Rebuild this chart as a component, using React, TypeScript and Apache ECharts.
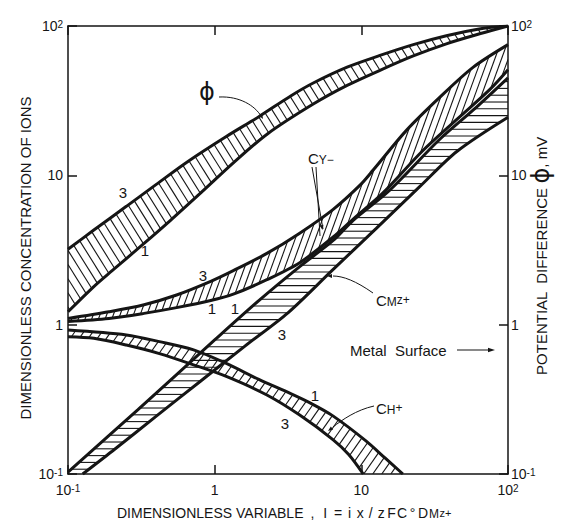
import React, { useEffect, useRef } from 'react';
import * as echarts from 'echarts';

type Pt = [number, number];

// Dimensionless variable I (x) against concentration / potential (y), log-log.
// Each quantity is drawn as a band between its curve "3" and curve "1".
const phiCurve3: Pt[] = [[0.1, 3.2], [0.15, 4.3], [0.25, 6.2], [0.4, 8.7], [0.65, 12.3], [1.2, 18.2], [2, 24.7], [3.3, 34], [4.7, 41.5], [8, 53], [13.4, 63.5], [22.6, 75], [38, 86], [65, 96], [100, 100]];
const phiCurve1: Pt[] = [[0.1, 1.22], [0.15, 1.8], [0.2, 2.3], [0.33, 3.5], [0.5, 5.0], [0.8, 7.6], [1.4, 12.6], [2.3, 19], [4.7, 30], [8, 40], [13.4, 50.5], [22.6, 63], [38, 76], [65, 89], [100, 100]];

const cyCurve3: Pt[] = [[0.1, 1.1], [0.19, 1.22], [0.33, 1.36], [0.55, 1.58], [0.94, 1.95], [1.34, 2.3], [2.27, 3.0], [3.8, 4.1], [6.4, 5.9], [9.8, 8.6], [12, 10.8], [20.3, 20], [34.5, 33.5], [58, 53], [100, 75]];
const cyCurve1: Pt[] = [[0.1, 1.05], [0.19, 1.1], [0.33, 1.19], [0.55, 1.3], [0.94, 1.45], [1.34, 1.6], [2.27, 2.0], [3.8, 2.6], [6.4, 3.85], [8.8, 5.1], [14, 7.6], [26, 14.5], [45, 23.8], [75, 37.5], [100, 51]];

const cmCurve1: Pt[] = [[0.1, 0.103], [0.3, 0.27], [1, 0.79], [2, 1.45], [3.8, 2.45], [6.4, 3.65], [8.8, 5.0], [15.7, 8.0], [34, 17.3], [58, 27.4], [100, 45]];
const cmCurve3: Pt[] = [[0.126, 0.1], [0.2, 0.142], [0.4, 0.244], [0.8, 0.418], [1.6, 0.716], [3.16, 1.2], [6.3, 2.3], [12.6, 4.4], [25, 8.4], [45, 14.5], [100, 24.5]];

const chCurve1: Pt[] = [[0.1, 0.92], [0.25, 0.853], [0.42, 0.77], [0.71, 0.68], [1.2, 0.55], [2, 0.43], [3.3, 0.345], [4.6, 0.295], [6.4, 0.245], [10.8, 0.166], [14.5, 0.128], [19.2, 0.1]];
const chCurve3: Pt[] = [[0.1, 0.83], [0.15, 0.81], [0.25, 0.73], [0.42, 0.64], [0.71, 0.54], [1.2, 0.45], [2.27, 0.338], [3.8, 0.248], [6.4, 0.17], [8.2, 0.135], [10.3, 0.1]];

// Decade tick labels, indexed by exponent + 1 (10^-1 .. 10^2)
const tickText = ['{b|10}{s|-1}', '{b|1}', '{b|10}', '{b|10}{s|2}'];

const INK = '#151515';
const FONT = '"Liberation Sans", Arial, sans-serif';

type Band = { upper: Pt[]; lower: Pt[]; angle: number; gap: number };

const bands: Band[] = [
  { upper: phiCurve3, lower: phiCurve1, angle: -58, gap: 7.5 },
  { upper: cyCurve3, lower: cyCurve1, angle: 70, gap: 6.3 },
  { upper: cmCurve1, lower: cmCurve3, angle: 0, gap: 6.8 },
  { upper: chCurve1, lower: chCurve3, angle: 55, gap: 7.4 },
];

// Parallel hatch segments clipped to a polygon given in pixel coordinates.
function hatchSegments(poly: number[][], angleDeg: number, gap: number) {
  const a = (angleDeg * Math.PI) / 180;
  const dx = Math.cos(a);
  const dy = -Math.sin(a);
  const nx = -dy;
  const ny = dx;
  const s = poly.map((p) => p[0] * nx + p[1] * ny);
  const lo = Math.min(...s);
  const hi = Math.max(...s);
  const segs: { x: number; y: number }[][] = [];
  for (let c = Math.ceil(lo / gap) * gap + 0.01; c <= hi; c += gap) {
    const hits: { u: number; x: number; y: number }[] = [];
    for (let i = 0; i < poly.length; i++) {
      const j = (i + 1) % poly.length;
      const si = s[i];
      const sj = s[j];
      if ((si < c) !== (sj < c)) {
        const t = (c - si) / (sj - si);
        const x = poly[i][0] + t * (poly[j][0] - poly[i][0]);
        const y = poly[i][1] + t * (poly[j][1] - poly[i][1]);
        hits.push({ u: x * dx + y * dy, x, y });
      }
    }
    hits.sort((p, q) => p.u - q.u);
    for (let k = 0; k + 1 < hits.length; k += 2) segs.push([hits[k], hits[k + 1]]);
  }
  return segs;
}

function hatchSeries(band: Band) {
  return {
    type: 'custom',
    coordinateSystem: 'cartesian2d',
    xAxisIndex: 0,
    yAxisIndex: 0,
    data: [band.upper[0]],
    clip: true,
    silent: true,
    z: 2,
    renderItem: (_params: any, api: any) => {
      const up = band.upper.map((p) => api.coord(p));
      const lo = band.lower.map((p) => api.coord(p)).reverse();
      const segs = hatchSegments(up.concat(lo), band.angle, band.gap);
      return {
        type: 'group',
        children: segs.map(([p, q]) => ({
          type: 'line',
          shape: { x1: p.x, y1: p.y, x2: q.x, y2: q.y },
          style: { stroke: INK, lineWidth: 1.1 },
        })),
      };
    },
  };
}

function curveSeries(name: string, data: Pt[]) {
  return {
    type: 'line',
    name,
    data,
    symbol: 'none',
    smooth: 0.3,
    clip: true,
    silent: true,
    z: 3,
    lineStyle: { color: INK, width: 3 },
  };
}

function arrowHead(tip: Pt, from: Pt, len = 6, half = 2.4) {
  const vx = tip[0] - from[0];
  const vy = tip[1] - from[1];
  const d = Math.hypot(vx, vy) || 1;
  const ux = vx / d;
  const uy = vy / d;
  const bx = tip[0] - ux * len;
  const by = tip[1] - uy * len;
  return {
    type: 'polygon',
    shape: { points: [tip, [bx - uy * half, by + ux * half], [bx + uy * half, by - ux * half]] },
    style: { fill: INK },
    silent: true,
  };
}

function label(text: string, x: number, y: number, size = 15) {
  return {
    type: 'text',
    x,
    y,
    silent: true,
    style: { text, font: `${size}px ${FONT}`, fill: INK, align: 'center', verticalAlign: 'middle' },
  };
}

const ionRich = {
  c: { fontSize: 15, fontFamily: FONT, fill: INK, lineHeight: 15, verticalAlign: 'top' },
  sub: { fontSize: 12, fontFamily: FONT, fill: INK, lineHeight: 4, verticalAlign: 'bottom' },
  sub2: { fontSize: 12, fontFamily: FONT, fill: INK, lineHeight: 11, verticalAlign: 'bottom' },
  sm: { fontSize: 12, fontFamily: FONT, fill: INK, lineHeight: 12, verticalAlign: 'middle' },
};

function ionLabel(text: string, x: number, y: number) {
  return {
    type: 'text',
    x,
    y,
    silent: true,
    style: { text, rich: ionRich, align: 'left', verticalAlign: 'middle' },
  };
}

function leader(x1: number, y1: number, c1x: number, c1y: number, c2x: number, c2y: number, x2: number, y2: number) {
  return {
    type: 'bezierCurve',
    shape: { x1, y1, cpx1: c1x, cpy1: c1y, cpx2: c2x, cpy2: c2y, x2, y2 },
    style: { stroke: INK, lineWidth: 1, fill: null },
    silent: true,
  };
}

function buildGraphic() {
  const tail = '{w|,}{w|I}{w|=}{g|i}{g|x}{g|/}{g|z}{g|F}{g|C}{g|°}{g|D}{m|M}{zp|z+}';
  return [
    // axis titles
    {
      type: 'text', x: 25, y: 258, rotation: Math.PI / 2, silent: true,
      style: { text: 'DIMENSIONLESS CONCENTRATION OF IONS', font: `15px ${FONT}`, fill: INK, align: 'center', verticalAlign: 'middle' },
    },
    {
      type: 'text', x: 541, y: 256, rotation: Math.PI / 2, silent: true,
      style: {
        text: '{t|POTENTIAL  DIFFERENCE }{p|ϕ}{t|, mV}',
        rich: {
          t: { fontSize: 15, fontFamily: FONT, fill: INK },
          p: { fontSize: 24, fontFamily: '"DejaVu Sans", sans-serif', fill: INK },
        },
        align: 'center', verticalAlign: 'middle',
      },
    },
    {
      type: 'text', x: 117, y: 513, silent: true,
      style: { text: 'DIMENSIONLESS VARIABLE', font: `14px ${FONT}`, fill: INK, align: 'left', verticalAlign: 'middle' },
    },
    {
      type: 'text', x: 306, y: 513, silent: true,
      style: {
        text: tail,
        rich: {
          w: { fontSize: 14, fontFamily: FONT, fill: INK, width: 12.8, align: 'center', lineHeight: 14, verticalAlign: 'middle' },
          g: { fontSize: 14, fontFamily: FONT, fill: INK, width: 10.5, align: 'center', lineHeight: 14, verticalAlign: 'middle' },
          m: { fontSize: 12, fontFamily: FONT, fill: INK, width: 11, align: 'center', lineHeight: 4, verticalAlign: 'bottom' },
          zp: { fontSize: 11, fontFamily: FONT, fill: INK, align: 'center', lineHeight: 11, verticalAlign: 'middle' },
        },
        align: 'left', verticalAlign: 'middle',
      },
    },
    // band names
    { type: 'text', x: 207, y: 92, silent: true, style: { text: 'ϕ', font: `24px "DejaVu Sans", sans-serif`, fill: INK, align: 'center', verticalAlign: 'middle' } },
    leader(219, 97, 240, 96, 255, 106, 261, 116),
    arrowHead([263, 119], [259, 112], 5, 2),
    ionLabel('{c|C}{sub2|Y−}', 308, 158),
    { type: 'line', shape: { x1: 312, y1: 167, x2: 323, y2: 229 }, style: { stroke: INK, lineWidth: 1 }, silent: true },
    { type: 'line', shape: { x1: 316, y1: 167, x2: 320, y2: 236 }, style: { stroke: INK, lineWidth: 1 }, silent: true },
    arrowHead([322.5, 230], [320.5, 220], 5, 2),
    ionLabel('{c|C}{sub|M}{sm|z+}', 376, 300),
    leader(373, 293, 356, 281, 343, 276, 333, 276),
    arrowHead([327, 276], [334, 276], 5, 2),
    ionLabel('{c|C}{sub|H}{sm|+}', 376, 408),
    leader(374, 406, 356, 410, 342, 420, 333, 427),
    arrowHead([328, 431], [334, 426.5], 5, 2),
    { type: 'text', x: 350, y: 350, silent: true, style: { text: 'Metal  Surface', font: `15px ${FONT}`, fill: INK, align: 'left', verticalAlign: 'middle' } },
    { type: 'line', shape: { x1: 457, y1: 350, x2: 490, y2: 350 }, style: { stroke: INK, lineWidth: 1.2 }, silent: true },
    arrowHead([495, 350], [488, 350], 7, 2.2),
    // curve numbers
    label('3', 123, 192), label('1', 145, 250),
    label('3', 203, 275), label('1', 212, 308),
    label('1', 235, 308), label('3', 282, 334),
    label('1', 315, 395), label('3', 285, 423),
  ];
}

function logAxis(position: string, showLabels: boolean, margin: number) {
  return {
    type: 'log',
    logBase: 10,
    min: 0.1,
    max: 100,
    position,
    axisLine: { show: true, onZero: false, lineStyle: { color: INK, width: 1.5 } },
    axisTick: { show: true, inside: true, length: 9, lineStyle: { color: INK, width: 1.5 } },
    minorTick: { show: false },
    splitLine: { show: false },
    axisLabel: {
      show: showLabels,
      margin,
      showMinLabel: true,
      showMaxLabel: true,
      formatter: (v: number) => tickText[Math.round(Math.log10(v)) + 1] ?? '',
      rich: {
        b: { fontSize: 14, fontFamily: FONT, color: INK, lineHeight: 14, verticalAlign: 'middle' },
        s: { fontSize: 10, fontFamily: FONT, color: INK, lineHeight: 2, verticalAlign: 'top' },
      },
    },
  };
}

function buildOption() {
  return {
    animation: false,
    backgroundColor: '#ffffff',
    grid: { left: 68, right: 53, top: 26, bottom: 49, containLabel: false },
    xAxis: [logAxis('bottom', true, 9), logAxis('top', false, 8)],
    yAxis: [logAxis('left', true, 5), logAxis('right', true, 3)],
    series: [
      ...bands.map(hatchSeries),
      curveSeries('ϕ 3', phiCurve3),
      curveSeries('ϕ 1', phiCurve1),
      curveSeries('CY− 3', cyCurve3),
      curveSeries('CY− 1', cyCurve1),
      curveSeries('CMz+ 1', cmCurve1),
      curveSeries('CMz+ 3', cmCurve3),
      curveSeries('CH+ 1', chCurve1),
      curveSeries('CH+ 3', chCurve3),
    ],
    graphic: buildGraphic(),
  };
}

export default function App() {
  const ref = useRef<HTMLDivElement>(null);
  useEffect(() => {
    if (!ref.current) return;
    const chart = echarts.init(ref.current, null, { renderer: 'svg' });
    chart.setOption(buildOption() as any);
    return () => chart.dispose();
  }, []);
  return (
    <div
      ref={ref}
      style={{ position: 'fixed', left: 0, top: 0, width: 561, height: 523, background: '#fff' }}
    />
  );
}
